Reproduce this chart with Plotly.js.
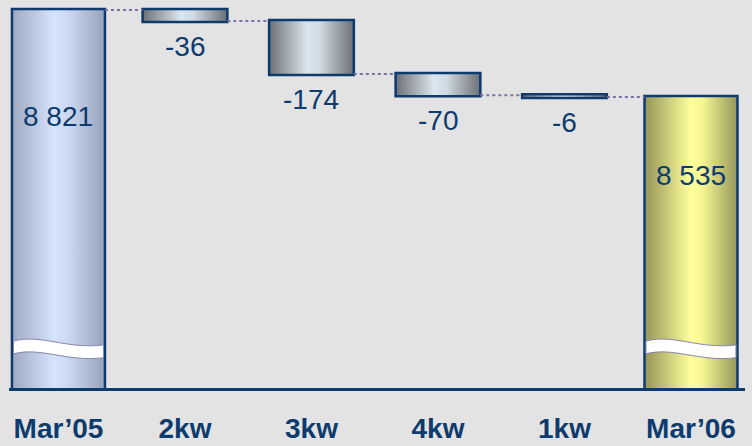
<!DOCTYPE html>
<html>
<head>
<meta charset="utf-8">
<script src="https://cdn.plot.ly/plotly-3.0.1.min.js"></script>
<style>
  html, body { margin: 0; padding: 0; background: #e3e3e3; }
  #chart { width: 752px; height: 446px; }
</style>
</head>
<body>
<div id="chart"></div>
<script>
// ---- data ----
const categories = ["Mar\u201905", "2kw", "3kw", "4kw", "1kw", "Mar\u201906"];
const measures   = ["absolute", "relative", "relative", "relative", "relative", "total"];
const values     = [8821, -36, -174, -70, -6, 8535];
const valueLabels = ["8 821", "-36", "-174", "-70", "-6", "8 535"];

// ---- style ----
const DARK = "#0d3b6e";
const FONT = "'Liberation Sans', Arial, sans-serif";
const xIdx = categories.map((_, i) => i);
const barWidths = measures.map(m => m === "relative" ? 0.67 : 0.735);

// running totals (from data) for label anchors
const tops = [], bottoms = [];
let run = 0;
values.forEach((v, i) => {
  if (measures[i] === "absolute") { run = v; tops.push(v); bottoms.push(null); }
  else if (measures[i] === "total") { tops.push(run); bottoms.push(null); }
  else { tops.push(run); run += v; bottoms.push(run); }
});

const trace = {
  type: "waterfall",
  x: xIdx,
  y: values,
  measure: measures,
  width: barWidths,
  hoverinfo: "skip",
  textinfo: "none",
  connector: { mode: "between", line: { color: "#7a72a6", width: 2, dash: "dot" } },
  decreasing: { marker: { color: "#b0b8c0", line: { color: DARK, width: 2.5 } } },
  increasing: { marker: { color: "#b0b8c0", line: { color: DARK, width: 2.5 } } },
  totals:     { marker: { color: "#c4d0e8", line: { color: DARK, width: 2.5 } } }
};

const annotations = [];
const totalShift = { 0: -106, 5: -78 };
values.forEach((v, i) => {
  if (measures[i] === "relative") {
    annotations.push({
      x: xIdx[i], y: bottoms[i], xref: "x", yref: "y",
      text: valueLabels[i], showarrow: false, yanchor: "top", yshift: -8,
      font: { family: FONT, size: 28, color: DARK }
    });
  } else {
    annotations.push({
      x: xIdx[i], y: tops[i], xref: "x", yref: "y",
      text: valueLabels[i], showarrow: false, yanchor: "middle", yshift: totalShift[i],
      font: { family: FONT, size: 28, color: DARK }
    });
  }
});

// axis-break marks on the total bars
const shapes = [];
measures.forEach((m, i) => {
  if (m === "relative") return;
  const hw = barWidths[i] / 2 - 0.012;
  const x0 = xIdx[i] - hw, x1 = xIdx[i] + hw, w = x1 - x0;
  const p = (a) => (x0 + a * w).toFixed(4);
  const path = `M ${x0},0.121 C ${p(0.3)},0.140 ${p(0.6)},0.099 ${x1},0.111 ` +
               `L ${x1},0.078 C ${p(0.6)},0.066 ${p(0.3)},0.107 ${x0},0.088 Z`;
  shapes.push({
    type: "path", xref: "x", yref: "paper", path: path,
    fillcolor: "#ffffff", line: { color: "#8a84b0", width: 1 }, layer: "above"
  });
});

const layout = {
  width: 752, height: 446,
  margin: { l: 9, r: 7, t: 0, b: 58 },
  paper_bgcolor: "#e3e3e3",
  plot_bgcolor: "#e3e3e3",
  showlegend: false,
  xaxis: {
    range: [-0.391, 5.427],
    tickvals: xIdx, ticktext: categories,
    showline: true, linecolor: DARK, linewidth: 3,
    ticks: "outside", ticklen: 13, tickcolor: "rgba(0,0,0,0)",
    showgrid: false, zeroline: false,
    tickfont: { family: FONT, size: 28, color: DARK, weight: "bold" },
    fixedrange: true
  },
  yaxis: {
    range: [7578, 8854], visible: false, showgrid: false, zeroline: false, fixedrange: true
  },
  annotations: annotations,
  shapes: shapes
};

const gd = document.getElementById("chart");
Plotly.newPlot(gd, [trace], layout, { staticPlot: true, displayModeBar: false }).then(() => {
  const svg = gd.querySelector("svg.main-svg");
  const NS = "http://www.w3.org/2000/svg";
  let defs = svg.querySelector("defs");
  if (!defs) { defs = document.createElementNS(NS, "defs"); svg.insertBefore(defs, svg.firstChild); }
  function grad(id, stops) {
    const g = document.createElementNS(NS, "linearGradient");
    g.setAttribute("id", id);
    g.setAttribute("x1", "0"); g.setAttribute("x2", "1");
    g.setAttribute("y1", "0"); g.setAttribute("y2", "0");
    stops.forEach(([o, c]) => {
      const s = document.createElementNS(NS, "stop");
      s.setAttribute("offset", o); s.setAttribute("stop-color", c);
      g.appendChild(s);
    });
    defs.appendChild(g);
  }
  grad("gBlue",  [["0", "#9ea9c0"], ["0.45", "#d6e3fc"], ["0.6", "#cdd9f2"], ["1", "#97a3ba"]]);
  grad("gYel",   [["0", "#959558"], ["0.5", "#ffff9c"], ["0.62", "#f6f692"], ["1", "#96965c"]]);
  grad("gGrey",  [["0", "#6c7076"], ["0.45", "#dbe6ee"], ["0.6", "#cfdae2"], ["1", "#6c7076"]]);
  const paths = gd.querySelectorAll("g.point path");
  paths.forEach((pth, i) => {
    let id = "gGrey";
    if (measures[i] === "absolute") id = "gBlue";
    else if (measures[i] === "total") id = "gYel";
    pth.style.fill = `url(#${id})`;
    pth.style.fillOpacity = 1;
  });
});
</script>
</body>
</html>
